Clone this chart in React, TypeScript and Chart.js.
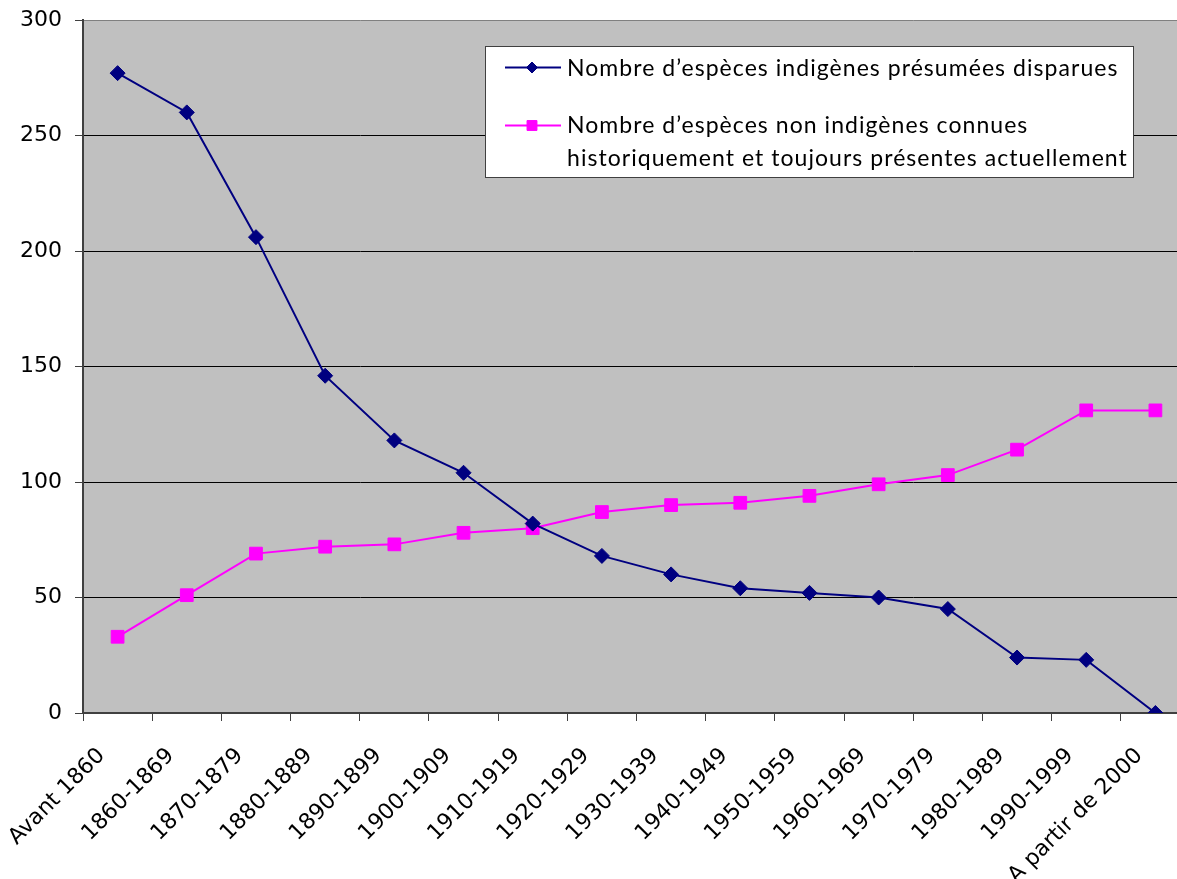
import { useEffect, useRef } from 'react';
import { Chart, registerables } from 'chart.js';
import { drawPoint } from 'chart.js/helpers';

Chart.register(...registerables);

// Periods shown on the category axis
const periods = [
  'Avant 1860',
  '1860-1869',
  '1870-1879',
  '1880-1889',
  '1890-1899',
  '1900-1909',
  '1910-1919',
  '1920-1929',
  '1930-1939',
  '1940-1949',
  '1950-1959',
  '1960-1969',
  '1970-1979',
  '1980-1989',
  '1990-1999',
  'A partir de 2000',
];

// Native species presumed extinct, per period
const nativeExtinct = [277, 260, 206, 146, 118, 104, 82, 68, 60, 54, 52, 50, 45, 24, 23, 0];

// Non-native species historically known and still present, per period
const nonNativePresent = [33, 51, 69, 72, 73, 78, 80, 87, 90, 91, 94, 99, 103, 114, 131, 131];

// Legend wording (one entry per series, split into text lines)
const nativeLabel = ['Nombre d’espèces indigènes présumées disparues'];
const nonNativeLabel = [
  'Nombre d’espèces non indigènes connues',
  'historiquement et toujours présentes actuellement',
];

// Value axis
const yMin = 0;
const yMax = 300;
const yStep = 50;

const NAVY = '#000080';
const MAGENTA = '#FF00FF';
const AXIS = '#404040';

const legendLines = [nativeLabel, nonNativeLabel];

// Grey plotting area behind the series
const plotBackground = {
  id: 'plotBackground',
  beforeDraw(chart: any) {
    const { ctx, chartArea } = chart;
    ctx.save();
    ctx.fillStyle = '#C0C0C0';
    ctx.fillRect(chartArea.left, chartArea.top, chartArea.right - chartArea.left, chartArea.bottom - chartArea.top);
    ctx.restore();
  },
};

// Framed legend inside the plot, with multi-line entries
const boxedLegend = {
  id: 'boxedLegend',
  afterDraw(chart: any) {
    const { ctx, chartArea } = chart;
    const left = chartArea.left + 402.5;
    const top = chartArea.top + 26.5;
    const width = 648;
    const height = 131;
    ctx.save();
    ctx.fillStyle = '#FFFFFF';
    ctx.fillRect(left, top, width, height);
    ctx.strokeStyle = AXIS;
    ctx.lineWidth = 1;
    ctx.strokeRect(left, top, width, height);

    const rows = [
      { mid: top + 21, base: top + 29.2 },
      { mid: top + 79, base: top + 86.8 },
    ];
    const sampleX0 = left + 19.5;
    const sampleX1 = left + 75.5;
    const markX = left + 46.5;
    const textX = left + 81.5;

    chart.data.datasets.forEach((ds: any, i: number) => {
      const r = rows[i];
      ctx.strokeStyle = ds.borderColor;
      ctx.lineWidth = 2;
      ctx.beginPath();
      ctx.moveTo(sampleX0, r.mid);
      ctx.lineTo(sampleX1, r.mid);
      ctx.stroke();

      ctx.fillStyle = ds.pointBackgroundColor;
      ctx.strokeStyle = ds.pointBorderColor;
      ctx.lineWidth = 1;
      drawPoint(
        ctx,
        { pointStyle: ds.pointStyle, radius: ds.pointStyle === 'rectRot' ? 5.5 : 7, borderWidth: 1, rotation: 0 },
        markX,
        r.mid
      );

      ctx.fillStyle = '#000000';
      ctx.font = '23px Lato';
      (ctx as any).letterSpacing = '1.05px';
      ctx.textBaseline = 'alphabetic';
      ctx.textAlign = 'left';
      legendLines[i].forEach((line, k) => {
        ctx.fillText(line, textX, r.base + k * 32.4);
      });
    });
    ctx.restore();
  },
};

export default function App() {
  const canvasRef = useRef<HTMLCanvasElement | null>(null);

  useEffect(() => {
    const canvas = canvasRef.current;
    if (!canvas) return;
    const chart = new Chart(canvas, {
      type: 'line',
      data: {
        labels: periods,
        datasets: [
          {
            label: nativeLabel.join(' '),
            data: nativeExtinct,
            borderColor: NAVY,
            backgroundColor: NAVY,
            pointBackgroundColor: NAVY,
            pointBorderColor: NAVY,
            pointStyle: 'rectRot',
            pointRadius: 7.5,
            pointBorderWidth: 1,
            borderWidth: 2,
            tension: 0,
          },
          {
            label: nonNativeLabel.join(' '),
            data: nonNativePresent,
            borderColor: MAGENTA,
            backgroundColor: MAGENTA,
            pointBackgroundColor: MAGENTA,
            pointBorderColor: MAGENTA,
            pointStyle: 'rect',
            pointRadius: 9,
            pointBorderWidth: 1,
            borderWidth: 2,
            tension: 0,
          },
        ],
      },
      options: {
        responsive: false,
        animation: false,
        layout: { padding: { top: 20, left: 0, right: 0, bottom: 0 } },
        plugins: {
          legend: { display: false },
          tooltip: { enabled: false },
        },
        scales: {
          x: {
            offset: true,
            grid: {
              offset: true,
              drawOnChartArea: false,
              drawTicks: true,
              tickLength: 8,
              tickColor: AXIS,
              tickWidth: 1,
            },
            border: { color: AXIS, width: 2 },
            ticks: {
              autoSkip: false,
              minRotation: 45,
              maxRotation: 45,
              labelOffset: -16,
              padding: 22,
              color: '#000000',
              font: { family: 'DejaVu Sans', size: 22 },
            },
            afterFit(scale: any) {
              scale.height = 166;
              scale.paddingLeft = 0;
              scale.paddingRight = 0;
            },
          },
          y: {
            min: yMin,
            max: yMax,
            grid: {
              color: (c: any) => {
                const v = c.tick ? c.tick.value : 0;
                if (v === yMin) return 'rgba(0,0,0,0)';
                if (v === yMax) return '#808080';
                return '#000000';
              },
              lineWidth: 1,
              tickLength: 8,
              tickColor: AXIS,
              tickWidth: 1,
            },
            border: { color: AXIS, width: 2 },
            ticks: {
              stepSize: yStep,
              padding: 13,
              color: '#000000',
              font: { family: 'DejaVu Sans', size: 22 },
            },
            afterFit(scale: any) {
              scale.width = 83;
              scale.paddingTop = 0;
              scale.paddingBottom = 0;
            },
          },
        },
      },
      plugins: [plotBackground, boxedLegend],
    });
    return () => chart.destroy();
  }, []);

  return (
    <div
      style={{
        position: 'fixed',
        left: 0,
        top: 0,
        width: 1177,
        height: 879,
        overflow: 'hidden',
        background: '#FFFFFF',
      }}
    >
      <canvas ref={canvasRef} width={1200} height={879} style={{ display: 'block', width: 1200, height: 879 }} />
    </div>
  );
}
